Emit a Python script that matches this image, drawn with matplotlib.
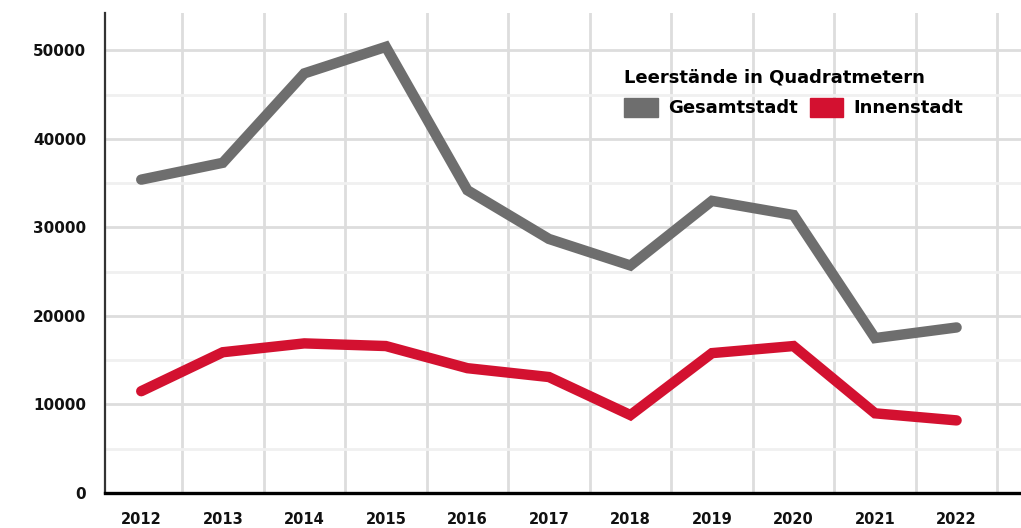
import matplotlib
matplotlib.use("Agg")
import matplotlib.pyplot as plt
import matplotlib.patches as mpatches
from matplotlib.ticker import MultipleLocator

plt.rcParams['font.family'] = ['DejaVu Sans']

years = [2012, 2013, 2014, 2015, 2016, 2017, 2018, 2019, 2020, 2021, 2022]
gesamtstadt = [35400, 37300, 47400, 50400, 34200, 28700, 25700, 33000, 31400, 17500, 18700]
innenstadt = [11500, 15900, 16900, 16600, 14100, 13100, 8800, 15800, 16600, 9000, 8200]

series_labels = ["Gesamtstadt", "Innenstadt"]
legend_title = "Leerstände in Quadratmetern"

color_gesamt = "#6e6e6e"
color_innen = "#d31130"

fig = plt.figure(figsize=(10.21, 5.28), dpi=100)
ax = fig.add_axes([0.1028, 0.0663, 0.8972, 0.9087])

ax.plot(years, gesamtstadt, color=color_gesamt, linewidth=7.5,
        solid_capstyle="round", solid_joinstyle="miter", zorder=3)
ax.plot(years, innenstadt, color=color_innen, linewidth=7.5,
        solid_capstyle="round", solid_joinstyle="miter", zorder=3)

ax.set_xlim(2011.555, 2022.79)
ax.set_ylim(0, 54200)

ax.set_xticks(years)
ax.set_xticks([y + 0.5 for y in years], minor=True)
ax.yaxis.set_major_locator(MultipleLocator(10000))
ax.yaxis.set_minor_locator(MultipleLocator(5000))

ax.grid(axis="x", which="minor", color="#dddddd", linewidth=2, zorder=0)
ax.grid(axis="y", which="major", color="#dddddd", linewidth=2, zorder=0)
ax.grid(axis="y", which="minor", color="#f0f0f0", linewidth=2, zorder=0)
ax.set_axisbelow(True)

ax.tick_params(which="both", length=0)
ax.tick_params(axis="x", pad=13.5, labelsize=10.5)
ax.tick_params(axis="y", pad=13.5, labelsize=11)
for lab in ax.get_xticklabels() + ax.get_yticklabels():
    lab.set_fontweight("bold")
    lab.set_color("#111111")

for side in ("top", "right"):
    ax.spines[side].set_visible(False)
ax.spines["left"].set_color("#333333")
ax.spines["left"].set_linewidth(1.6)
ax.spines["bottom"].set_color("#000000")
ax.spines["bottom"].set_linewidth(2.4)

handles = [mpatches.Patch(color=color_gesamt, label=series_labels[0]),
           mpatches.Patch(color=color_innen, label=series_labels[1])]
leg = ax.legend(handles=handles, ncol=2, title=legend_title, frameon=False,
                loc="upper left", bbox_to_anchor=(0.567, 0.885),
                alignment="left", handlelength=1.85, handleheight=1.2,
                handletextpad=0.55, columnspacing=0.7, borderaxespad=0,
                borderpad=0, labelspacing=0.65,
                prop={"weight": "bold", "size": 13},
                title_fontproperties={"weight": "bold", "size": 13})

fig.savefig("out.png", dpi=100)
